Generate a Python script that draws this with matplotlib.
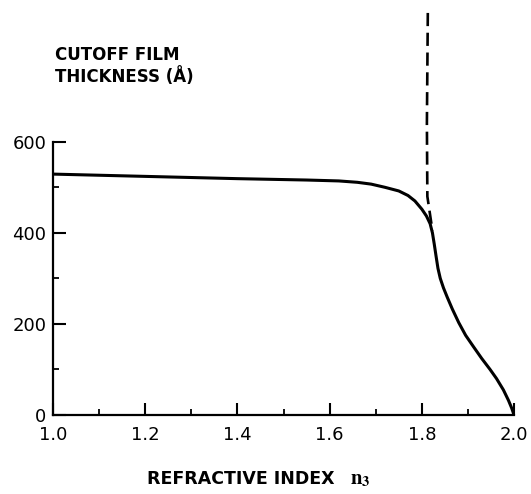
import matplotlib
matplotlib.use("Agg")
import matplotlib.pyplot as plt
from matplotlib.ticker import MultipleLocator

plt.rcParams['font.family'] = ['DejaVu Sans']
plt.rcParams['mathtext.fontset'] = 'stix'

# data
n3_solid = [1.0, 1.2, 1.4, 1.55, 1.62, 1.66, 1.69, 1.72, 1.75, 1.77, 1.785,
            1.80, 1.81, 1.818, 1.823, 1.827, 1.831, 1.835, 1.840, 1.847,
            1.855, 1.866, 1.880, 1.895, 1.912, 1.930, 1.948, 1.962, 1.977,
            1.988, 1.995, 2.0]
thick_solid = [529, 524, 519, 516, 514, 511, 507, 500, 492, 482, 470,
               452, 437, 420, 400, 375, 348, 322, 300, 279,
               259, 233, 203, 175, 150, 124, 100, 80, 55,
               32, 15, 0]
n3_dash = [1.813, 1.811, 1.812, 1.823]
thick_dash = [883, 640, 480, 405]
xticks_major = [1.0, 1.2, 1.4, 1.6, 1.8, 2.0]
xtick_labels = ['1.0', '1.2', '1.4', '1.6', '1.8', '2.0']
yticks_major = [0, 200, 400, 600]
ytick_labels = ['0', '200', '400', '600']

fig = plt.figure(figsize=(5.31, 4.94), dpi=100)
ax = fig.add_axes([0.100, 0.160, 0.868, 0.553])

ax.plot(n3_solid, thick_solid, color='black', lw=2.2, solid_capstyle='butt',
        solid_joinstyle='round')
ax.plot(n3_dash, thick_dash, color='black', lw=1.9, clip_on=False,
        dashes=(5, 2.5))

ax.set_xlim(1.0, 2.0)
ax.set_ylim(0, 600)

for s in ['top', 'right']:
    ax.spines[s].set_visible(False)
for s in ['left', 'bottom']:
    ax.spines[s].set_linewidth(1.6)

ax.set_xticks(xticks_major)
ax.set_xticklabels(xtick_labels)
ax.set_yticks(yticks_major)
ax.set_yticklabels(ytick_labels)
ax.xaxis.set_minor_locator(MultipleLocator(0.1))
ax.yaxis.set_minor_locator(MultipleLocator(100))
ax.tick_params(which='major', direction='in', length=9, width=1.5,
               labelsize=13)
ax.tick_params(which='minor', direction='in', length=4.5, width=1.3)
ax.tick_params(axis='x', which='major', pad=8)
ax.tick_params(axis='y', which='major', pad=5)

fig.text(55 / 531, 1 - 46 / 494, 'CUTOFF FILM\nTHICKNESS (Å)', ha='left',
         va='top', fontsize=12, fontweight='bold', linespacing=1.2)
fig.text(147 / 531, 1 - 484 / 494, 'REFRACTIVE INDEX',
         ha='left', va='baseline', fontsize=12.5, fontweight='bold')
fig.text(350 / 531, 1 - 484 / 494, r'$\mathbf{n}_{\mathbf{3}}$',
         ha='left', va='baseline', fontsize=15)

fig.savefig('out.png', dpi=100)
